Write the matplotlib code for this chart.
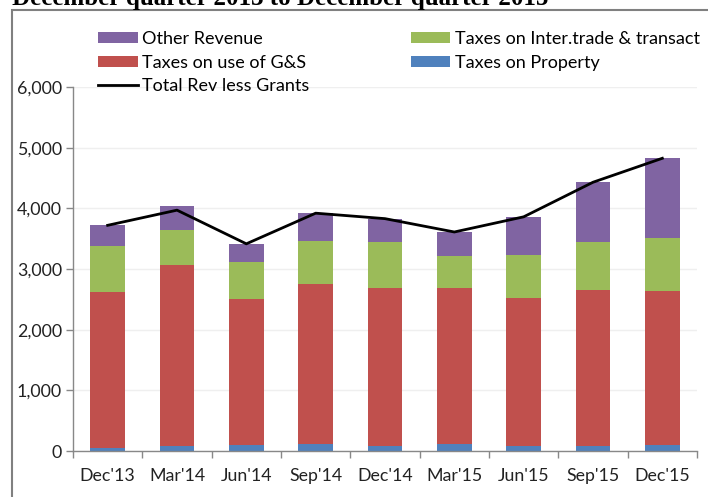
import numpy as np
import matplotlib
matplotlib.use("Agg")
import matplotlib.pyplot as plt
from matplotlib.patches import Rectangle

# quarters and revenue components (millions)
quarters = ["Dec'13", "Mar'14", "Jun'14", "Sep'14", "Dec'14", "Mar'15", "Jun'15", "Sep'15", "Dec'15"]
property_tax = [55, 75, 100, 115, 80, 115, 80, 80, 95]
gs_tax = [2565, 2995, 2400, 2640, 2600, 2565, 2445, 2570, 2535]
trade_tax = [755, 565, 615, 710, 770, 535, 705, 800, 885]
other_rev = [345, 410, 300, 455, 380, 395, 630, 980, 1310]
total_less_grants = [3720, 3970, 3415, 3920, 3830, 3610, 3860, 4430, 4825]

c_blue = "#4F81BD"
c_red = "#C0504D"
c_green = "#9BBB59"
c_purple = "#8064A2"

plt.rcParams["font.family"] = ["Lato", "DejaVu Sans"]

fig = plt.figure(figsize=(7.08, 4.97), dpi=100)
ax = fig.add_axes([73/708, 46/497, 624/708, 364/497])

x = np.arange(len(quarters))
w = 0.5
b1 = np.array(property_tax)
b2 = b1 + np.array(gs_tax)
b3 = b2 + np.array(trade_tax)

ax.bar(x, property_tax, w, color=c_blue, label="Taxes on Property", zorder=2)
ax.bar(x, gs_tax, w, bottom=b1, color=c_red, label="Taxes on use of G&S", zorder=2)
ax.bar(x, trade_tax, w, bottom=b2, color=c_green, label="Taxes on Inter.trade & transact", zorder=2)
ax.bar(x, other_rev, w, bottom=b3, color=c_purple, label="Other Revenue", zorder=2)
ax.plot(x, total_less_grants, color="black", lw=2, label="Total Rev less Grants", zorder=3)

ax.set_xlim(-0.5, len(quarters) - 0.5)
ax.set_ylim(0, 6000)
ax.set_yticks(np.arange(0, 6001, 1000))
ax.set_yticklabels([f"{v:,}" for v in range(0, 6001, 1000)])
ax.set_xticks(x)
ax.set_xticklabels(quarters)
ax.set_xticks(np.arange(-0.5, len(quarters), 1), minor=True)
ax.tick_params(axis="x", which="major", length=0, pad=12, labelsize=12.8, colors="#222222")
ax.tick_params(axis="x", which="minor", length=5, width=1, color="#888888")
ax.tick_params(axis="y", length=5, width=1, color="#888888", pad=3, labelsize=12.8, labelcolor="#222222")

ax.grid(axis="y", color="#efefef", lw=1, zorder=0)
for s in ["top", "right"]:
    ax.spines[s].set_visible(False)
for s in ["left", "bottom"]:
    ax.spines[s].set_color("#888888")
    ax.spines[s].set_linewidth(1)

h, l = ax.get_legend_handles_labels()
order = ["Other Revenue", "Taxes on use of G&S", "Total Rev less Grants",
         "Taxes on Inter.trade & transact", "Taxes on Property"]
hd = dict(zip(l, h))
fig.legend([hd[k] for k in order], order, ncol=2, loc="upper left",
           bbox_to_anchor=(89/708, 1 - 22/497), bbox_transform=fig.transFigure,
           frameon=False, fontsize=13, borderpad=0, handlelength=2.2,
           handleheight=0.55, handletextpad=0.25, labelspacing=0.42,
           columnspacing=5.6)

# outer frame and clipped title at the top
fig.patches.append(Rectangle((12/708, -0.1), 2, 1.1 - 10/497, transform=fig.transFigure,
                             fill=False, edgecolor="#808080", lw=1.5))
fig.text(12/708, 1 - 5/497, "December quarter 2013 to December quarter 2015",
         fontsize=18, fontweight="bold", family="Liberation Serif", va="baseline")

fig.savefig("out.png", dpi=100)
